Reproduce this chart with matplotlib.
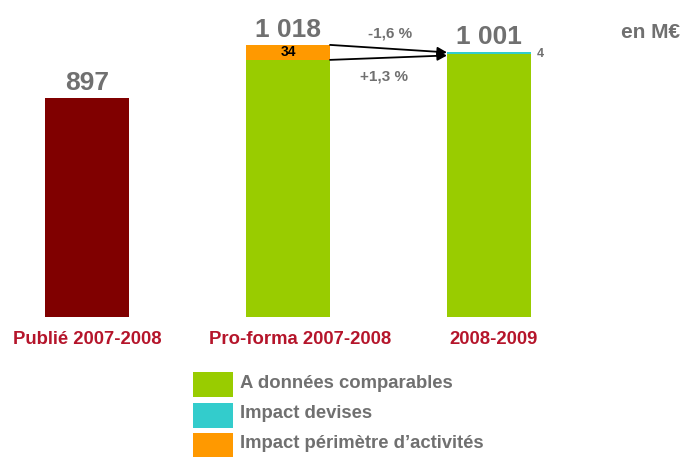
import matplotlib
matplotlib.use("Agg")
import matplotlib.pyplot as plt
from matplotlib.patches import Rectangle

plt.rcParams['font.family'] = ['Liberation Sans', 'DejaVu Sans']

categories = ["Publié 2007-2008", "Pro-forma 2007-2008", "2008-2009"]
totals = [897, 1018, 1001]
published = [897, 0, 0]
comparable = [0, 984, 997]
currency = [0, 0, 4]
perimeter = [0, 34, 0]
variations = ["-1,6 %", "+1,3 %"]
legend_labels = ["A données comparables", "Impact devises", "Impact périmètre d’activités"]
unit_label = "en M€"

C_RED = "#800000"
C_GREEN = "#99CC00"
C_CYAN = "#33CCCC"
C_ORANGE = "#FF9900"
C_GRAY = "#707070"
C_CAT = "#B5152B"

W, H = 685, 457
fig = plt.figure(figsize=(W / 100, H / 100), dpi=100)
ax = fig.add_axes([0, 1 - 317 / H, 1, 317 / H])

YMIN, YMAX = 400, 1120
x = list(range(len(categories)))
width = 0.418
ax.bar(x, published, width=width, color=C_RED)
ax.bar(x, comparable, width=width, color=C_GREEN)
ax.bar(x, currency, width=width, bottom=comparable, color=C_CYAN)
ax.bar(x, perimeter, width=width, bottom=comparable, color=C_ORANGE)

ax.set_xlim(-0.433, 2.975)
ax.set_ylim(YMIN, YMAX)
ax.axis('off')

# total labels
for i, t in enumerate(totals):
    s = f"{t:,}".replace(",", " ")
    ax.annotate(s, (x[i], t), xytext=(0, 6), textcoords='offset points',
                ha='center', va='baseline', fontsize=19, fontweight='bold', color=C_GRAY)

# segment labels
ax.text(x[1], comparable[1] + perimeter[1] / 2, str(perimeter[1]), ha='center', va='center',
        fontsize=10, fontweight='bold', color='black')
ax.annotate(str(currency[2]), (x[2] + width / 2, comparable[2] + currency[2]), xytext=(4, -1),
            textcoords='offset points', ha='left', va='center', fontsize=9,
            fontweight='bold', color=C_GRAY)

# arrows
x0 = x[1] + width / 2
x1 = x[2] - width / 2
arrow_kw = dict(arrowstyle="-|>", color="black", lw=1.3, mutation_scale=14,
                shrinkA=0, shrinkB=0)
ax.annotate("", xy=(x1, comparable[2] + currency[2]), xytext=(x0, totals[1]),
            arrowprops=arrow_kw)
ax.annotate("", xy=(x1, comparable[2] - 3), xytext=(x0, comparable[1]),
            arrowprops=arrow_kw)
xm = (x0 + x1) / 2
ax.annotate(variations[0], (xm, totals[1]), xytext=(1, 3),
            textcoords='offset points', ha='center', va='bottom', fontsize=11,
            fontweight='bold', color=C_GRAY)
ax.annotate(variations[1], (xm, comparable[1]), xytext=(-3, -7),
            textcoords='offset points', ha='center', va='top', fontsize=11,
            fontweight='bold', color=C_GRAY)

# category labels
label_shift = [0, 9, 3]
for i, c in enumerate(categories):
    ax.annotate(c, (x[i], YMIN), xytext=(label_shift[i], -10), textcoords='offset points',
                ha='center', va='top', fontsize=13.3, fontweight='bold', color=C_CAT,
                annotation_clip=False)

fig.text(680 / W, 1 - 33 / H, unit_label, ha='right', va='center', fontsize=15,
         fontweight='bold', color=C_GRAY)

# legend (drawn manually in figure pixels)
leg_colors = [C_GREEN, C_CYAN, C_ORANGE]
for k, (lab, col) in enumerate(zip(legend_labels, leg_colors)):
    top = 372 + k * 30.5
    fig.add_artist(Rectangle((193 / W, 1 - (top + 25) / H), 40 / W, 25 / H,
                             transform=fig.transFigure, facecolor=col, edgecolor='none'))
    fig.text(240 / W, 1 - (top + 11) / H, lab, ha='left', va='center', fontsize=13.3,
             fontweight='bold', color=C_GRAY)

fig.savefig("out.png", dpi=100)
